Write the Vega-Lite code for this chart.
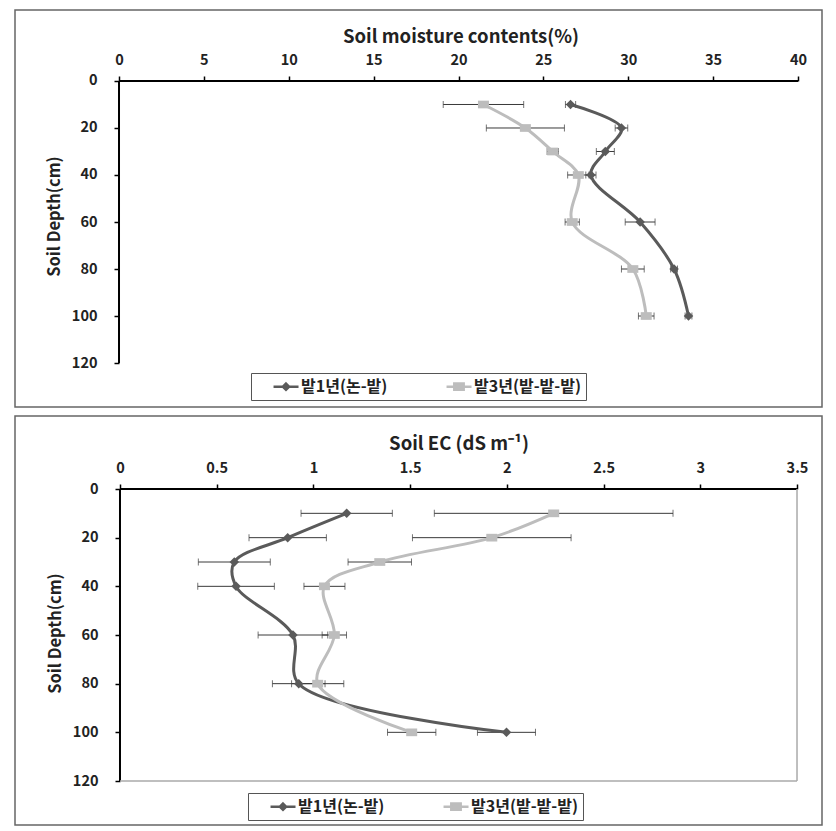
{
  "$schema": "https://vega.github.io/schema/vega-lite/v6.json",
  "background": "white",
  "padding": {"left": 14, "top": 9, "right": 4, "bottom": 4},
  "spacing": 7,
  "datasets": {
    "moisture": [
      {"series": "밭1년(논-밭)", "depth": 10, "value": 26.6, "lo": 26.3, "hi": 26.9},
      {"series": "밭1년(논-밭)", "depth": 20, "value": 29.6, "lo": 29.23, "hi": 29.97},
      {"series": "밭1년(논-밭)", "depth": 30, "value": 28.65, "lo": 28.12, "hi": 29.18},
      {"series": "밭1년(논-밭)", "depth": 40, "value": 27.8, "lo": 27.5, "hi": 28.1},
      {"series": "밭1년(논-밭)", "depth": 60, "value": 30.7, "lo": 29.82, "hi": 31.58},
      {"series": "밭1년(논-밭)", "depth": 80, "value": 32.7, "lo": 32.5, "hi": 32.9},
      {"series": "밭1년(논-밭)", "depth": 100, "value": 33.55, "lo": 33.35, "hi": 33.75},
      {"series": "밭3년(밭-밭-밭)", "depth": 10, "value": 21.47, "lo": 19.1, "hi": 23.84},
      {"series": "밭3년(밭-밭-밭)", "depth": 20, "value": 23.94, "lo": 21.64, "hi": 26.24},
      {"series": "밭3년(밭-밭-밭)", "depth": 30, "value": 25.55, "lo": 25.22, "hi": 25.88},
      {"series": "밭3년(밭-밭-밭)", "depth": 40, "value": 27.06, "lo": 26.43, "hi": 27.69},
      {"series": "밭3년(밭-밭-밭)", "depth": 60, "value": 26.7, "lo": 26.28, "hi": 27.12},
      {"series": "밭3년(밭-밭-밭)", "depth": 80, "value": 30.27, "lo": 29.6, "hi": 30.94},
      {"series": "밭3년(밭-밭-밭)", "depth": 100, "value": 31.06, "lo": 30.6, "hi": 31.52}
    ],
    "ec": [
      {"series": "밭1년(논-밭)", "depth": 10, "value": 1.172, "lo": 0.936, "hi": 1.408},
      {"series": "밭1년(논-밭)", "depth": 20, "value": 0.867, "lo": 0.667, "hi": 1.067},
      {"series": "밭1년(논-밭)", "depth": 30, "value": 0.591, "lo": 0.405, "hi": 0.777},
      {"series": "밭1년(논-밭)", "depth": 40, "value": 0.6, "lo": 0.402, "hi": 0.798},
      {"series": "밭1년(논-밭)", "depth": 60, "value": 0.894, "lo": 0.714, "hi": 1.074},
      {"series": "밭1년(논-밭)", "depth": 80, "value": 0.924, "lo": 0.788, "hi": 1.06},
      {"series": "밭1년(논-밭)", "depth": 100, "value": 1.998, "lo": 1.848, "hi": 2.148},
      {"series": "밭3년(밭-밭-밭)", "depth": 10, "value": 2.242, "lo": 1.625, "hi": 2.859},
      {"series": "밭3년(밭-밭-밭)", "depth": 20, "value": 1.922, "lo": 1.512, "hi": 2.332},
      {"series": "밭3년(밭-밭-밭)", "depth": 30, "value": 1.343, "lo": 1.179, "hi": 1.507},
      {"series": "밭3년(밭-밭-밭)", "depth": 40, "value": 1.057, "lo": 0.951, "hi": 1.163},
      {"series": "밭3년(밭-밭-밭)", "depth": 60, "value": 1.108, "lo": 1.045, "hi": 1.171},
      {"series": "밭3년(밭-밭-밭)", "depth": 80, "value": 1.022, "lo": 0.887, "hi": 1.157},
      {"series": "밭3년(밭-밭-밭)", "depth": 100, "value": 1.508, "lo": 1.383, "hi": 1.633}
    ]
  },
  "resolve": {
    "scale": {"x": "independent", "y": "independent", "color": "independent", "shape": "independent", "stroke": "independent"},
    "axis": {"x": "independent", "y": "independent"},
    "legend": {"color": "independent", "shape": "independent", "stroke": "independent"}
  },
  "vconcat": [
    {
      "width": 807,
      "height": 397,
      "view": {"stroke": "#666", "strokeWidth": 1.5},
      "data": {"name": "moisture"},
      "layer": [
        {
          "data": {"values": [{"k": 1}]},
          "mark": {"type": "rule", "color": "#000", "strokeWidth": 2},
          "encoding": {
            "x": {"datum": 0, "type": "quantitative",
              "scale": {"domain": [-6.127, 41.414], "nice": false, "zero": false},
              "axis": {"orient": "top", "offset": -71, "values": [0, 5, 10, 15, 20, 25, 30, 35, 40], "format": "~g",
                "title": "Soil moisture contents(%)", "titleFontSize": 18.5, "titlePadding": 6, "labelPadding": 9, "titleX": 445.5}},
            "x2": {"datum": 40},
            "y": {"datum": 0, "type": "quantitative",
              "scale": {"domain": [-30.21, 138.72], "nice": false, "zero": false, "reverse": true},
              "axis": {"orient": "left", "offset": -104, "values": [0, 20, 40, 60, 80, 100, 120],
                "title": "Soil Depth(cm)", "titleFontSize": 16.5, "labelPadding": 17, "titlePadding": 9, "titleY": 206}}
          }
        },
        {
          "data": {"values": [{"k": 1}]},
          "mark": {"type": "rule", "color": "#000", "strokeWidth": 2},
          "encoding": {
            "x": {"datum": 0, "type": "quantitative"},
            "y": {"datum": 0, "type": "quantitative"},
            "y2": {"datum": 120}
          }
        },
        {
          "transform": [{"filter": "false"}],
          "mark": {"type": "point", "filled": true, "opacity": 1, "size": 196, "strokeWidth": 2.5},
          "encoding": {
            "x": {"field": "value", "type": "quantitative", "title": "Soil moisture contents(%)"},
            "y": {"field": "depth", "type": "quantitative", "title": "Soil Depth(cm)"},
            "color": {"field": "series", "type": "nominal",
              "scale": {"domain": ["밭1년(논-밭)", "밭3년(밭-밭-밭)"], "range": ["#5a5a5a", "#bdbdbd"]},
              "legend": {"orient": "none", "legendX": 236, "legendY": 363}},
            "stroke": {"field": "series", "type": "nominal",
              "scale": {"domain": ["밭1년(논-밭)", "밭3년(밭-밭-밭)"], "range": ["#5a5a5a", "#bdbdbd"]},
              "legend": {"orient": "none", "legendX": 236, "legendY": 363}},
            "shape": {"field": "series", "type": "nominal",
              "scale": {"domain": ["밭1년(논-밭)", "밭3년(밭-밭-밭)"],
                "range": ["M1.29,0H4.86M3.07,-0.45L3.52,0L3.07,0.45L2.62,0Z", "M1.29,0H4.86M2.4,-0.45H3.74V0.45H2.4Z"]},
              "legend": {"orient": "none", "legendX": 236, "legendY": 363}}
          }
        },
        {
          "mark": {"type": "errorbar", "ticks": {"size": 7, "thickness": 1, "color": "#3a3a3a"}, "color": "#3a3a3a", "thickness": 1},
          "encoding": {
            "x": {"field": "lo", "type": "quantitative", "title": "Soil moisture contents(%)"},
            "x2": {"field": "hi"},
            "y": {"field": "depth", "type": "quantitative", "title": "Soil Depth(cm)"}
          }
        },
        {
          "transform": [{"filter": "datum.series === '밭1년(논-밭)'"}],
          "mark": {"type": "line", "interpolate": "catmull-rom", "strokeWidth": 3, "color": "#5a5a5a"},
          "encoding": {
            "x": {"field": "value", "type": "quantitative", "title": "Soil moisture contents(%)"},
            "y": {"field": "depth", "type": "quantitative", "title": "Soil Depth(cm)"},
            "order": {"field": "depth", "type": "quantitative"}
          }
        },
        {
          "transform": [{"filter": "datum.series === '밭3년(밭-밭-밭)'"}],
          "mark": {"type": "line", "interpolate": "catmull-rom", "strokeWidth": 3, "color": "#bdbdbd"},
          "encoding": {
            "x": {"field": "value", "type": "quantitative", "title": "Soil moisture contents(%)"},
            "y": {"field": "depth", "type": "quantitative", "title": "Soil Depth(cm)"},
            "order": {"field": "depth", "type": "quantitative"}
          }
        },
        {
          "transform": [{"filter": "datum.series === '밭1년(논-밭)'"}],
          "mark": {"type": "point", "filled": true, "opacity": 1, "shape": "diamond", "size": 90, "color": "#5a5a5a"},
          "encoding": {
            "x": {"field": "value", "type": "quantitative", "title": "Soil moisture contents(%)"},
            "y": {"field": "depth", "type": "quantitative", "title": "Soil Depth(cm)"}
          }
        },
        {
          "transform": [{"filter": "datum.series === '밭3년(밭-밭-밭)'"}],
          "mark": {"type": "point", "filled": true, "opacity": 1, "shape": "M-1,-0.7H1V0.7H-1Z", "size": 121, "color": "#bdbdbd"},
          "encoding": {
            "x": {"field": "value", "type": "quantitative", "title": "Soil moisture contents(%)"},
            "y": {"field": "depth", "type": "quantitative", "title": "Soil Depth(cm)"}
          }
        }
      ]
    },
    {
      "width": 807,
      "height": 409,
      "view": {"stroke": "#666", "strokeWidth": 1.5},
      "data": {"name": "ec"},
      "layer": [
        {
          "data": {"values": [{"k": 1}]},
          "mark": {"type": "rule", "color": "#000", "strokeWidth": 2},
          "encoding": {
            "x": {"datum": 0, "type": "quantitative",
              "scale": {"domain": [-0.5428, 3.6292], "nice": false, "zero": false},
              "axis": {"orient": "top", "offset": -73, "values": [0, 0.5, 1, 1.5, 2, 2.5, 3, 3.5], "format": "~g",
                "title": "Soil EC (dS m⁻¹)", "titleFontSize": 18.5, "titlePadding": 7, "labelPadding": 9, "titleX": 443.5}},
            "x2": {"datum": 3.5},
            "y": {"datum": 0, "type": "quantitative",
              "scale": {"domain": [-30.0, 138.08], "nice": false, "zero": false, "reverse": true},
              "axis": {"orient": "left", "offset": -105, "values": [0, 20, 40, 60, 80, 100, 120],
                "title": "Soil Depth(cm)", "titleFontSize": 16.5, "labelPadding": 17, "titlePadding": 9, "titleY": 217}}
          }
        },
        {
          "data": {"values": [{"k": 1}]},
          "mark": {"type": "rule", "color": "#000", "strokeWidth": 2},
          "encoding": {
            "x": {"datum": 0, "type": "quantitative"},
            "y": {"datum": 0, "type": "quantitative"},
            "y2": {"datum": 120}
          }
        },
        {
          "data": {"values": [{"k": 1}]},
          "mark": {"type": "rule", "color": "#aaa", "strokeWidth": 1.5},
          "encoding": {
            "x": {"datum": 3.5, "type": "quantitative"},
            "y": {"datum": 0, "type": "quantitative"},
            "y2": {"datum": 120}
          }
        },
        {
          "data": {"values": [{"k": 1}]},
          "mark": {"type": "rule", "color": "#aaa", "strokeWidth": 1.5},
          "encoding": {
            "x": {"datum": 0, "type": "quantitative"},
            "x2": {"datum": 3.5},
            "y": {"datum": 120, "type": "quantitative"}
          }
        },
        {
          "transform": [{"filter": "false"}],
          "mark": {"type": "point", "filled": true, "opacity": 1, "size": 196, "strokeWidth": 2.5},
          "encoding": {
            "x": {"field": "value", "type": "quantitative", "title": "Soil EC (dS m⁻¹)"},
            "y": {"field": "depth", "type": "quantitative", "title": "Soil Depth(cm)"},
            "color": {"field": "series", "type": "nominal",
              "scale": {"domain": ["밭1년(논-밭)", "밭3년(밭-밭-밭)"], "range": ["#5a5a5a", "#bdbdbd"]},
              "legend": {"orient": "none", "legendX": 233, "legendY": 377}},
            "stroke": {"field": "series", "type": "nominal",
              "scale": {"domain": ["밭1년(논-밭)", "밭3년(밭-밭-밭)"], "range": ["#5a5a5a", "#bdbdbd"]},
              "legend": {"orient": "none", "legendX": 233, "legendY": 377}},
            "shape": {"field": "series", "type": "nominal",
              "scale": {"domain": ["밭1년(논-밭)", "밭3년(밭-밭-밭)"],
                "range": ["M1.29,0H4.86M3.07,-0.45L3.52,0L3.07,0.45L2.62,0Z", "M1.29,0H4.86M2.4,-0.45H3.74V0.45H2.4Z"]},
              "legend": {"orient": "none", "legendX": 233, "legendY": 377}}
          }
        },
        {
          "mark": {"type": "errorbar", "ticks": {"size": 7, "thickness": 1, "color": "#3a3a3a"}, "color": "#3a3a3a", "thickness": 1},
          "encoding": {
            "x": {"field": "lo", "type": "quantitative", "title": "Soil EC (dS m⁻¹)"},
            "x2": {"field": "hi"},
            "y": {"field": "depth", "type": "quantitative", "title": "Soil Depth(cm)"}
          }
        },
        {
          "transform": [{"filter": "datum.series === '밭1년(논-밭)'"}],
          "mark": {"type": "line", "interpolate": "catmull-rom", "strokeWidth": 3, "color": "#5a5a5a"},
          "encoding": {
            "x": {"field": "value", "type": "quantitative", "title": "Soil EC (dS m⁻¹)"},
            "y": {"field": "depth", "type": "quantitative", "title": "Soil Depth(cm)"},
            "order": {"field": "depth", "type": "quantitative"}
          }
        },
        {
          "transform": [{"filter": "datum.series === '밭3년(밭-밭-밭)'"}],
          "mark": {"type": "line", "interpolate": "catmull-rom", "strokeWidth": 3, "color": "#bdbdbd"},
          "encoding": {
            "x": {"field": "value", "type": "quantitative", "title": "Soil EC (dS m⁻¹)"},
            "y": {"field": "depth", "type": "quantitative", "title": "Soil Depth(cm)"},
            "order": {"field": "depth", "type": "quantitative"}
          }
        },
        {
          "transform": [{"filter": "datum.series === '밭1년(논-밭)'"}],
          "mark": {"type": "point", "filled": true, "opacity": 1, "shape": "diamond", "size": 90, "color": "#5a5a5a"},
          "encoding": {
            "x": {"field": "value", "type": "quantitative", "title": "Soil EC (dS m⁻¹)"},
            "y": {"field": "depth", "type": "quantitative", "title": "Soil Depth(cm)"}
          }
        },
        {
          "transform": [{"filter": "datum.series === '밭3년(밭-밭-밭)'"}],
          "mark": {"type": "point", "filled": true, "opacity": 1, "shape": "M-1,-0.7H1V0.7H-1Z", "size": 121, "color": "#bdbdbd"},
          "encoding": {
            "x": {"field": "value", "type": "quantitative", "title": "Soil EC (dS m⁻¹)"},
            "y": {"field": "depth", "type": "quantitative", "title": "Soil Depth(cm)"}
          }
        }
      ]
    }
  ],
  "config": {
    "font": "Noto Sans CJK KR",
    "axis": {
      "grid": false, "domain": false,
      "labelFont": "Noto Sans CJK KR", "labelFontSize": 14.5, "labelFontWeight": "bold", "labelColor": "#222",
      "tickColor": "#000", "tickWidth": 1.5, "tickSize": 5,
      "titleFont": "Noto Sans CJK KR", "titleFontWeight": "bold", "titleColor": "#222"
    },
    "legend": {
      "title": null,
      "direction": "horizontal",
      "strokeColor": "#555",
      "fillColor": "white",
      "padding": 5,
      "labelFont": "Noto Sans CJK KR", "labelFontSize": 16, "labelFontWeight": "bold", "labelColor": "#222",
      "symbolSize": 196,
      "symbolStrokeWidth": 2.5,
      "labelOffset": 28,
      "columnPadding": 41,
      "symbolLimit": 0
    }
  }
}
